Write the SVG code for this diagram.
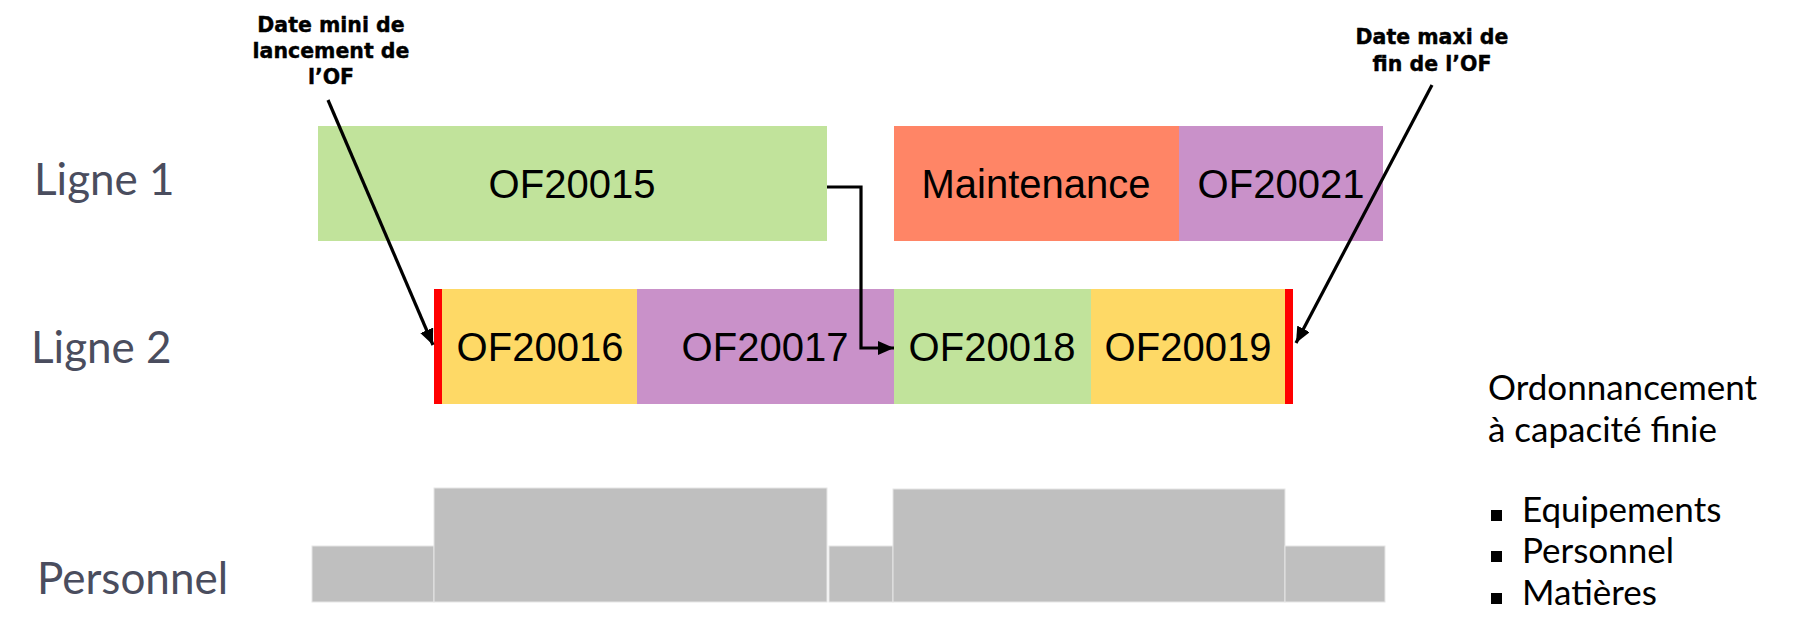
<svg xmlns="http://www.w3.org/2000/svg" width="1800" height="639" viewBox="0 0 1800 639">
<style>
.bt{font-family:"Liberation Sans",Arial,sans-serif;font-size:40px;fill:#000;text-anchor:middle}
.ann{font-family:"DejaVu Sans",Verdana,sans-serif;font-weight:bold;font-size:20.5px;fill:#000;text-anchor:middle;stroke:#000;stroke-width:0.4}
.row{font-family:Lato,"Open Sans",sans-serif;font-size:44px;fill:#4a4d5e}
.side{font-family:Lato,"Open Sans",sans-serif;font-size:35px;fill:#000}
.gray{fill:#bfbfbf;stroke:#e6e6e6;stroke-width:1}
.conn{fill:none;stroke:#000;stroke-width:3.2}
</style>
<defs>
<marker id="ah" viewBox="0 0 16 14" refX="16" refY="7" markerWidth="16" markerHeight="14" markerUnits="userSpaceOnUse" orient="auto">
<path d="M0,0 L16,7 L0,14 z" fill="#000"/>
</marker>
</defs>
<rect width="1800" height="639" fill="#fff"/>

<g id="labels">
<text class="row" x="34" y="195">Ligne 1</text>
<text class="row" x="31" y="363">Ligne 2</text>
<text class="row" x="37" y="594">Personnel</text>
</g>

<g id="of20015"><rect x="318" y="126" width="509" height="115" fill="#c1e39b"/><text class="bt" x="572" y="198">OF20015</text></g>
<g id="maintenance"><rect x="894" y="126" width="285" height="115" fill="#ff8566"/><text class="bt" x="1036" y="198">Maintenance</text></g>
<g id="of20021"><rect x="1179" y="126" width="204" height="115" fill="#c991c9"/><text class="bt" x="1281" y="198">OF20021</text></g>

<g id="of20016"><rect x="442" y="289" width="195" height="115" fill="#fed966"/><text class="bt" x="540" y="361">OF20016</text></g>
<g id="of20017"><rect x="637" y="289" width="257" height="115" fill="#c991c9"/><text class="bt" x="765" y="361">OF20017</text></g>
<g id="of20018"><rect x="894" y="289" width="197" height="115" fill="#c1e39b"/><text class="bt" x="992" y="361">OF20018</text></g>
<g id="of20019"><rect x="1091" y="289" width="194" height="115" fill="#fed966"/><text class="bt" x="1188" y="361">OF20019</text></g>
<g id="limits">
<rect x="434" y="289" width="8" height="115" fill="#ff0000"/>
<rect x="1285" y="289" width="8" height="115" fill="#ff0000"/>
</g>

<g id="personnel">
<rect class="gray" x="312" y="546" width="122" height="56"/>
<rect class="gray" x="434" y="488" width="393" height="114"/>
<rect class="gray" x="829" y="546" width="64" height="56"/>
<rect class="gray" x="893" y="489" width="392" height="113"/>
<rect class="gray" x="1285" y="546" width="100" height="56"/>
</g>

<g id="annot-min">
<text class="ann" x="331" y="32">Date mini de</text>
<text class="ann" x="331" y="58">lancement de</text>
<text class="ann" x="331" y="84">l’OF</text>
</g>
<g id="annot-max">
<text class="ann" x="1432" y="44">Date maxi de</text>
<text class="ann" x="1432" y="71">fin de l’OF</text>
</g>

<g id="side-text">
<text class="side" x="1488" y="400">Ordonnancement</text>
<text class="side" x="1488" y="442">à capacité finie</text>
<rect x="1491" y="510" width="11" height="11" fill="#000"/>
<text class="side" x="1522" y="522">Equipements</text>
<rect x="1491" y="551" width="11" height="11" fill="#000"/>
<text class="side" x="1522" y="563">Personnel</text>
<rect x="1491" y="593" width="11" height="11" fill="#000"/>
<text class="side" x="1522" y="605">Matières</text>
</g>

<g id="connectors">
<line class="conn" x1="328" y1="100" x2="433" y2="345" marker-end="url(#ah)"/>
<line class="conn" x1="1432" y1="85" x2="1296" y2="343" marker-end="url(#ah)"/>
<polyline class="conn" points="827,187 861,187 861,348 894,348" marker-end="url(#ah)"/>
</g>
</svg>
